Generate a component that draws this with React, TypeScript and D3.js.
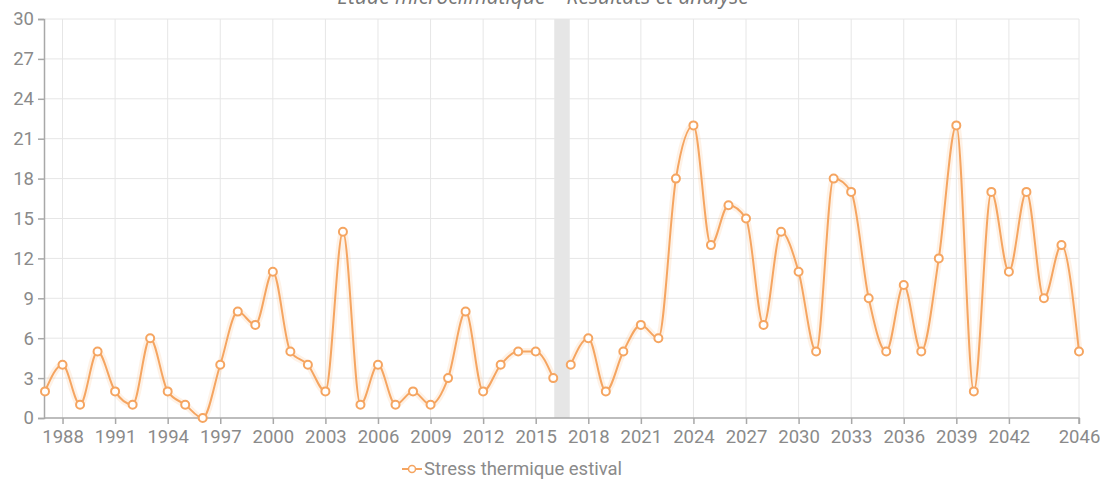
import { useEffect, useRef } from "react";
import * as d3 from "d3";

// years 1987 → 2046, one value per year
const years = d3.range(1987, 2047);
const stressValues = [
  2, 4, 1, 5, 2, 1, 6, 2, 1, 0,
  4, 8, 7, 11, 5, 4, 2, 14, 1, 4,
  1, 2, 1, 3, 8, 2, 4, 5, 5, 3,
  4, 6, 2, 5, 7, 6, 18, 22, 13, 16,
  15, 7, 14, 11, 5, 18, 17, 9, 5, 10,
  5, 12, 22, 2, 17, 11, 17, 9, 13, 5,
];
const xTickYears = [1988, 1991, 1994, 1997, 2000, 2003, 2006, 2009, 2012, 2015, 2018, 2021, 2024, 2027, 2030, 2033, 2036, 2039, 2042, 2046];
const yTicks = [0, 3, 6, 9, 12, 15, 18, 21, 24, 27, 30];
const breakAfterYear = 2016; // line is not joined across the grey marker
const seriesName = "Stress thermique estival";
const chartTitle = "Étude microclimatique – Résultats et analyse";

const W = 1100;
const H = 479;
const ORANGE = "#f5a561";
const TEXT = "#8a8a8a";
const FONT = "18.5px";

export default function App() {
  const ref = useRef<SVGSVGElement | null>(null);

  useEffect(() => {
    const svg = d3.select(ref.current);
    svg.selectAll("*").remove();

    const x = d3.scaleLinear().domain([1987, 2046]).range([45, 1079]);
    const y = d3.scaleLinear().domain([0, 30]).range([418, 19]);

    const data = years.map((yr, i) => ({ year: yr, value: stressValues[i] }));

    // title (mostly cut by the top edge, as in the source)
    svg.append("text")
      .attr("x", 543).attr("y", 4)
      .attr("text-anchor", "middle")
      .style("font-family", "'Open Sans', sans-serif")
      .style("font-style", "italic")
      .style("font-size", "21px")
      .style("fill", "#777")
      .text(chartTitle);

    // grid
    const grid = svg.append("g");
    grid.selectAll("line.h").data(yTicks.slice(1)).enter().append("line")
      .attr("x1", x(1987)).attr("x2", x(2046))
      .attr("y1", d => y(d)).attr("y2", d => y(d))
      .attr("stroke", "#e6e6e6").attr("stroke-width", 1);
    grid.selectAll("line.v").data(xTickYears).enter().append("line")
      .attr("x1", d => x(d)).attr("x2", d => x(d))
      .attr("y1", y(30)).attr("y2", y(0))
      .attr("stroke", "#e6e6e6").attr("stroke-width", 1);

    // grey marker between 2016 and 2017
    svg.append("rect")
      .attr("x", x(breakAfterYear) + 1)
      .attr("width", x(breakAfterYear + 1) - x(breakAfterYear) - 2)
      .attr("y", y(30)).attr("height", y(0) - y(30))
      .attr("fill", "#e6e6e6");

    // axes
    const xAxis = d3.axisBottom(x).tickValues(xTickYears).tickFormat(d3.format("d")).tickSize(6).tickPadding(5);
    const gx = svg.append("g").attr("transform", `translate(0,${y(0)})`).call(xAxis);
    gx.select(".domain").attr("d", `M${x(1987) - 1},0H${x(2046)}V6`);

    const yAxis = d3.axisLeft(y).tickValues(yTicks).tickSize(6).tickPadding(4);
    const gy = svg.append("g").attr("transform", `translate(${x(1987) - 1},0)`).call(yAxis);

    [gx, gy].forEach(g => {
      g.select(".domain").attr("stroke", "#a8a8a8").attr("stroke-width", 1.5);
      g.selectAll(".tick line").attr("stroke", "#a8a8a8").attr("stroke-width", 1.5);
      g.selectAll(".tick text")
        .style("font-family", "Roboto, sans-serif")
        .style("font-size", FONT)
        .style("fill", TEXT);
    });
    gx.selectAll(".tick text").attr("dy", "0.75em");

    // line, in two pieces
    const line = d3.line<{ year: number; value: number }>()
      .x(d => x(d.year))
      .y(d => y(d.value))
      .curve(d3.curveMonotoneX);
    const segments = [
      data.filter(d => d.year <= breakAfterYear),
      data.filter(d => d.year > breakAfterYear),
    ];
    svg.selectAll("path.halo").data(segments).enter().append("path")
      .attr("d", d => line(d))
      .attr("fill", "none").attr("stroke", ORANGE).attr("stroke-opacity", 0.15).attr("stroke-width", 7);
    svg.selectAll("path.series").data(segments).enter().append("path")
      .attr("d", d => line(d))
      .attr("fill", "none").attr("stroke", ORANGE).attr("stroke-width", 2);

    svg.selectAll("circle.pt").data(data).enter().append("circle")
      .attr("cx", d => x(d.year)).attr("cy", d => y(d.value))
      .attr("r", 4)
      .attr("fill", "#fff").attr("stroke", ORANGE).attr("stroke-width", 2);

    // legend
    const lg = svg.append("g").attr("transform", "translate(402,469)");
    lg.append("line").attr("x1", 0).attr("x2", 20).attr("y1", 0).attr("y2", 0)
      .attr("stroke", ORANGE).attr("stroke-width", 2);
    lg.append("circle").attr("cx", 10).attr("cy", 0).attr("r", 3.5)
      .attr("fill", "#fff").attr("stroke", ORANGE).attr("stroke-width", 1.5);
    lg.append("text").attr("x", 22).attr("y", 0).attr("dy", "0.35em")
      .style("font-family", "Roboto, sans-serif")
      .style("font-size", FONT)
      .style("fill", TEXT)
      .text(seriesName);
  }, []);

  return (
    <svg
      ref={ref}
      width={W}
      height={H}
      style={{ position: "absolute", left: 0, top: 0, background: "#fff" }}
    />
  );
}
